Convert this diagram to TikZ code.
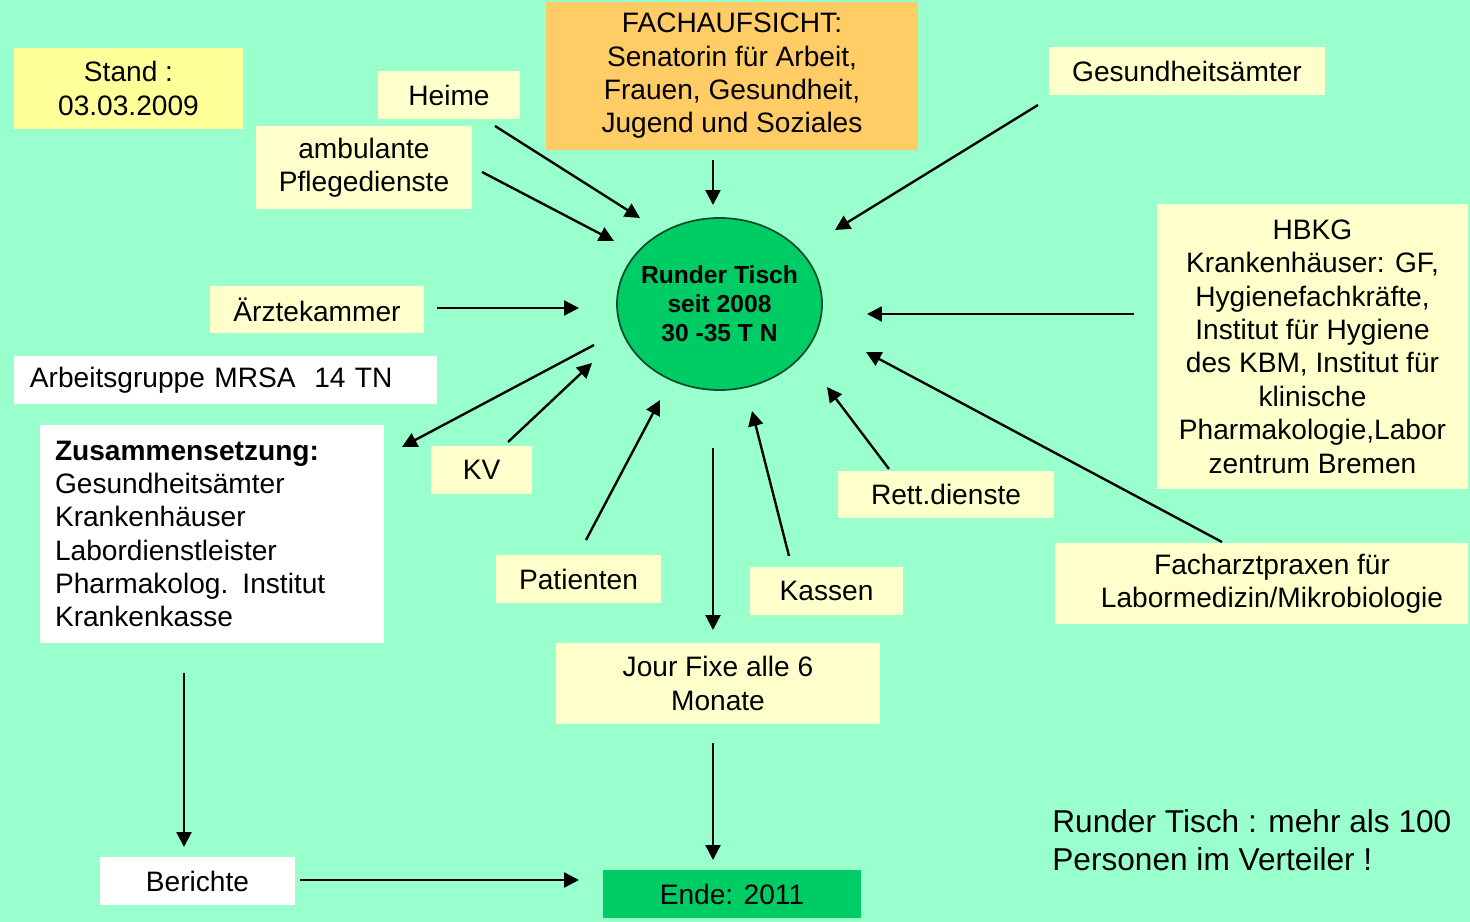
\documentclass[tikz,border=0pt]{standalone}
\usepackage{fontspec}
\setmainfont{Liberation Sans}
\usetikzlibrary{arrows.meta,shapes.geometric}
\definecolor{bgmint}{HTML}{99FFCC}
\definecolor{paleyel}{HTML}{FFFFCC}
\definecolor{standyel}{HTML}{FFFF99}
\definecolor{fachor}{HTML}{FFCC66}
\definecolor{rtgreen}{HTML}{00CC66}
\definecolor{rtborder}{HTML}{0B4D2A}
\begin{document}
\begin{tikzpicture}[x=0.02cm,y=-0.02cm,
  box/.style={fill=#1, inner sep=0pt, align=center, font=\fontsize{16}{19}\selectfont},
  sz/.style 2 args={minimum width=#1*0.02cm, minimum height=#2*0.02cm},
  arr/.style={line width=1.35pt, -{Triangle[length=8.5pt,width=8.5pt]}},
]
\fill[bgmint] (0,0) rectangle (1470,922);
\useasboundingbox (0,0) rectangle (1470,922);

% boxes
\node[box=standyel, sz={229}{81}] (stand) at (128.5,88.5) {Stand :\\03.03.2009};
\node[box=paleyel, sz={142}{48}] (heime) at (449,95) {Heime};
\node[box=paleyel, sz={216}{83}] (ambul) at (364,167.5) {ambulante\\Pflegedienste};
\node[box=fachor, sz={372}{148}] (fach) at (732,76) {FACHAUFSICHT:\\Senatorin für Arbeit,\\Frauen, Gesundheit,\\Jugend und Soziales};
\node[box=paleyel, sz={276}{48}] (gesund) at (1187,71) {Gesundheitsämter};
\node[box=paleyel, sz={311}{285}] (hbkg) at (1312.5,346.5) {HBKG\\Krankenhäuser: GF,\\Hygienefachkräfte,\\Institut für Hygiene\\des KBM, Institut für\\klinische\\Pharmakologie,Labor\\zentrum Bremen};
\node[box=paleyel, sz={214}{47}] (aerzte) at (317,309.5) {Ärztekammer};
\node[box=white, sz={423}{48}, text width=391*0.02cm, align=left] (arbeit) at (225.5,380) {Arbeitsgruppe MRSA\ \ 14 TN};
\node[box=white, sz={344}{218}, text width=314*0.02cm, align=left] (zus) at (212,534) {\textbf{Zusammensetzung:}\\Gesundheitsämter\\Krankenhäuser\\Labordienstleister\\Pharmakolog. Institut\\Krankenkasse};
\node[box=paleyel, sz={101}{48}] (kv) at (481.5,470) {KV};
\node[box=paleyel, sz={165}{48}] (pat) at (578.5,579) {Patienten};
\node[box=paleyel, sz={153}{48}] (kassen) at (826.5,591) {Kassen};
\node[box=paleyel, sz={216}{47}] (rett) at (946,494.5) {Rett.dienste};
\node[box=paleyel, sz={413}{81}] (fachar) at (1261.5,583.5) {\hspace*{30\pgflinewidth}Facharztpraxen für\\\hspace*{30\pgflinewidth}Labormedizin/Mikrobiologie};
\node[box=paleyel, sz={324}{81}] (jour) at (718,683.5) {Jour Fixe alle 6\\Monate};
\node[box=white, sz={195}{48}] (berichte) at (197.5,881) {Berichte};
\node[box=rtgreen, sz={258}{48}] (ende) at (732,894) {Ende: 2011};

% central ellipse
\node[ellipse, draw=rtborder, fill=rtgreen, line width=1pt, inner sep=0pt,
      minimum width=205*0.02cm, minimum height=172*0.02cm] (rt) at (719.5,304) {};
\node[align=center, inner sep=0pt, font=\bfseries\fontsize{14}{16.5}\selectfont] (rtlabel) at (rt.center)
      {Runder Tisch\\seit 2008\\30 -35 T N};

% note
\node[anchor=west, align=left, inner sep=0pt, font=\fontsize{18}{21.5}\selectfont] (note) at (1052,840)
  {Runder Tisch : mehr als 100\\Personen im Verteiler !};

% arrow end points
\coordinate (h1) at (495,126);   \coordinate (h2) at (640,218);
\coordinate (a1) at (482,172);   \coordinate (a2) at (614,241);
\coordinate (f1) at (713,160);   \coordinate (f2) at (713,205);
\coordinate (g1) at (1038,105);  \coordinate (g2) at (835,230);
\coordinate (k1) at (437,308);   \coordinate (k2) at (579,308);
\coordinate (b1) at (1134,314);  \coordinate (b2) at (867,314);
\coordinate (fa1) at (1222,542); \coordinate (fa2) at (866,352);
\coordinate (r1) at (889,469);   \coordinate (r2) at (827,387);
\coordinate (ka1) at (789,556);  \coordinate (ka2) at (752,411);
\coordinate (j1) at (713,448);   \coordinate (j2) at (713,630);
\coordinate (p1) at (586,540);   \coordinate (p2) at (660,400);
\coordinate (kv1) at (508,442);  \coordinate (kv2) at (592,363);
\coordinate (ag1) at (594,345);  \coordinate (ag2) at (402,447);
\coordinate (z1) at (184,673);   \coordinate (z2) at (184,847);
\coordinate (be1) at (300,880);  \coordinate (be2) at (579,880);
\coordinate (e1) at (713,743);   \coordinate (e2) at (713,860);

\draw[arr] (h1) -- (h2);
\draw[arr] (a1) -- (a2);
\draw[arr] (f1) -- (f2);
\draw[arr] (g1) -- (g2);
\draw[arr] (k1) -- (k2);
\draw[arr] (b1) -- (b2);
\draw[arr] (fa1) -- (fa2);
\draw[arr] (r1) -- (r2);
\draw[arr] (ka1) -- (ka2);
\draw[arr] (j1) -- (j2);
\draw[arr] (p1) -- (p2);
\draw[arr] (kv1) -- (kv2);
\draw[arr] (ag1) -- (ag2);
\draw[arr] (z1) -- (z2);
\draw[arr] (be1) -- (be2);
\draw[arr] (e1) -- (e2);
\end{tikzpicture}
\end{document}
